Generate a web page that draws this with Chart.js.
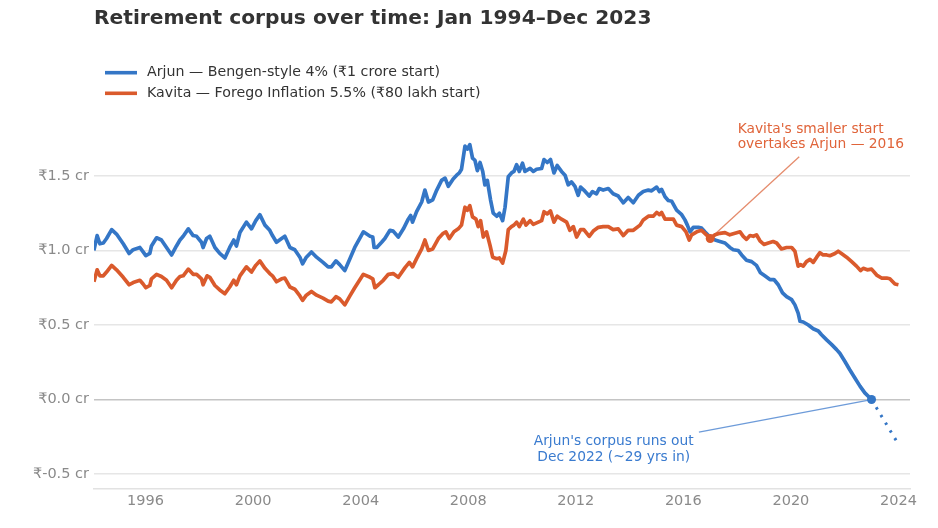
<!DOCTYPE html>
<html>
<head>
<meta charset="utf-8">
<script src="https://cdn.jsdelivr.net/npm/chart.js@4.4.1/dist/chart.umd.min.js"></script>
<style>
  body { margin: 0; background: #fff; }
  #wrap { width: 938px; height: 528px; }
</style>
</head>
<body>
<div id="wrap"><canvas id="corpusChart"></canvas></div>
<script>
// years as year + month/12 (Jan = 1/12), values in crore
const arjunT = [
  1994.08, 1994.20, 1994.30, 1994.43, 1994.55, 1994.74, 1994.92, 1995.17, 1995.39, 1995.54,
  1995.79, 1995.91, 1996.01, 1996.16, 1996.22, 1996.41, 1996.59, 1996.78, 1996.97, 1997.15,
  1997.28, 1997.40, 1997.59, 1997.77, 1997.90, 1998.08, 1998.14, 1998.27, 1998.39, 1998.58,
  1998.76, 1998.95, 1999.13, 1999.28, 1999.38, 1999.51, 1999.75, 1999.94, 2000.10, 2000.25,
  2000.44, 2000.62, 2000.72, 2000.87, 2001.06, 2001.18, 2001.37, 2001.55, 2001.74, 2001.84,
  2001.98, 2002.17, 2002.36, 2002.60, 2002.79, 2002.91, 2003.08, 2003.22, 2003.41, 2003.60,
  2003.78, 2004.10, 2004.35, 2004.45, 2004.50, 2004.60, 2004.78, 2004.90, 2005.09, 2005.21,
  2005.40, 2005.59, 2005.77, 2005.86, 2005.93, 2006.08, 2006.27, 2006.39, 2006.52, 2006.68,
  2006.83, 2007.01, 2007.14, 2007.26, 2007.44, 2007.57, 2007.67, 2007.75, 2007.88, 2007.97,
  2008.06, 2008.16, 2008.25, 2008.34, 2008.44, 2008.54, 2008.62, 2008.71, 2008.83, 2008.93,
  2009.06, 2009.16, 2009.28, 2009.37, 2009.49, 2009.61, 2009.70, 2009.80, 2009.90, 2010.02,
  2010.11, 2010.30, 2010.42, 2010.54, 2010.73, 2010.82, 2010.94, 2011.06, 2011.19, 2011.31,
  2011.47, 2011.60, 2011.72, 2011.84, 2011.97, 2012.09, 2012.18, 2012.30, 2012.50, 2012.62,
  2012.77, 2012.87, 2013.02, 2013.21, 2013.39, 2013.58, 2013.77, 2013.95, 2014.14, 2014.33,
  2014.51, 2014.70, 2014.82, 2015.01, 2015.11, 2015.19, 2015.32, 2015.44, 2015.57, 2015.75,
  2015.94, 2016.06, 2016.15, 2016.25, 2016.37, 2016.56, 2016.68, 2016.80, 2016.99, 2017.18,
  2017.36, 2017.55, 2017.73, 2017.86, 2018.04, 2018.17, 2018.35, 2018.54, 2018.72, 2018.87,
  2019.03, 2019.22, 2019.37, 2019.53, 2019.69, 2019.84, 2020.03, 2020.15, 2020.27, 2020.34,
  2020.46, 2020.65, 2020.83, 2021.02, 2021.14, 2021.33, 2021.51, 2021.70, 2021.82, 2022.01,
  2022.19, 2022.38, 2022.57, 2022.75, 2023.00
];
const arjunCr = [
  1.00, 1.10, 1.045, 1.05, 1.08, 1.14, 1.11, 1.045, 0.98, 1.005,
  1.02, 0.99, 0.965, 0.98, 1.03, 1.085, 1.07, 1.02, 0.97, 1.03,
  1.07, 1.095, 1.145, 1.10, 1.095, 1.055, 1.02, 1.08, 1.095, 1.02,
  0.98, 0.95, 1.02, 1.07, 1.03, 1.12, 1.19, 1.145, 1.20, 1.24,
  1.17, 1.135, 1.10, 1.055, 1.08, 1.095, 1.02, 1.005, 0.955, 0.91,
  0.955, 0.99, 0.955, 0.92, 0.89, 0.89, 0.93, 0.905, 0.865, 0.945,
  1.02, 1.125, 1.095, 1.09, 1.02, 1.02, 1.055, 1.08, 1.135, 1.13,
  1.09, 1.145, 1.21, 1.235, 1.19, 1.26, 1.325, 1.405, 1.325, 1.34,
  1.405, 1.47, 1.485, 1.43, 1.48, 1.505, 1.52, 1.545, 1.70, 1.68,
  1.71, 1.62, 1.605, 1.535, 1.59, 1.53, 1.44, 1.47, 1.34, 1.25,
  1.23, 1.25, 1.20, 1.29, 1.495, 1.52, 1.53, 1.575, 1.53, 1.585,
  1.53, 1.55, 1.53, 1.545, 1.55, 1.61, 1.59, 1.61, 1.52, 1.57,
  1.53, 1.505, 1.44, 1.46, 1.43, 1.37, 1.425, 1.405, 1.365, 1.395,
  1.38, 1.415, 1.405, 1.415, 1.38, 1.365, 1.32, 1.355, 1.32, 1.37,
  1.395, 1.405, 1.40, 1.425, 1.395, 1.41, 1.36, 1.335, 1.33, 1.27,
  1.24, 1.205, 1.17, 1.125, 1.155, 1.155, 1.15, 1.125, 1.09, 1.07,
  1.06, 1.05, 1.02, 1.005, 1.00, 0.97, 0.935, 0.925, 0.90, 0.85,
  0.83, 0.805, 0.805, 0.77, 0.715, 0.69, 0.67, 0.635, 0.58, 0.525,
  0.52, 0.50, 0.475, 0.46, 0.435, 0.40, 0.37, 0.335, 0.31, 0.255,
  0.20, 0.145, 0.09, 0.045, 0.00
];

const kavitaT = [
  1994.08, 1994.20, 1994.30, 1994.43, 1994.55, 1994.74, 1994.92, 1995.17, 1995.39, 1995.54,
  1995.79, 1995.91, 1996.01, 1996.16, 1996.22, 1996.41, 1996.59, 1996.78, 1996.97, 1997.15,
  1997.28, 1997.40, 1997.59, 1997.77, 1997.90, 1998.08, 1998.14, 1998.29, 1998.39, 1998.58,
  1998.76, 1998.95, 1999.13, 1999.28, 1999.38, 1999.51, 1999.75, 1999.94, 2000.10, 2000.25,
  2000.44, 2000.62, 2000.72, 2000.87, 2001.06, 2001.18, 2001.37, 2001.55, 2001.74, 2001.84,
  2001.98, 2002.17, 2002.36, 2002.60, 2002.79, 2002.91, 2003.08, 2003.22, 2003.41, 2003.60,
  2003.78, 2004.10, 2004.35, 2004.45, 2004.53, 2004.66, 2004.84, 2005.03, 2005.21, 2005.40,
  2005.65, 2005.81, 2005.93, 2006.08, 2006.27, 2006.39, 2006.52, 2006.68, 2006.89, 2007.07,
  2007.17, 2007.30, 2007.47, 2007.63, 2007.75, 2007.88, 2007.97, 2008.06, 2008.16, 2008.29,
  2008.37, 2008.46, 2008.56, 2008.68, 2008.81, 2008.91, 2009.06, 2009.16, 2009.28, 2009.40,
  2009.49, 2009.61, 2009.70, 2009.80, 2009.90, 2010.05, 2010.15, 2010.30, 2010.42, 2010.73,
  2010.82, 2010.94, 2011.06, 2011.19, 2011.31, 2011.47, 2011.66, 2011.78, 2011.91, 2012.03,
  2012.18, 2012.30, 2012.50, 2012.65, 2012.84, 2013.02, 2013.21, 2013.39, 2013.58, 2013.77,
  2013.95, 2014.14, 2014.39, 2014.51, 2014.70, 2014.88, 2015.01, 2015.11, 2015.19, 2015.32,
  2015.50, 2015.63, 2015.75, 2015.94, 2016.10, 2016.22, 2016.31, 2016.50, 2016.68, 2016.80,
  2017.00, 2017.18, 2017.36, 2017.55, 2017.73, 2017.92, 2018.11, 2018.23, 2018.35, 2018.48,
  2018.60, 2018.72, 2018.85, 2019.00, 2019.16, 2019.34, 2019.47, 2019.65, 2019.84, 2020.03,
  2020.15, 2020.27, 2020.36, 2020.46, 2020.58, 2020.71, 2020.83, 2020.96, 2021.08, 2021.20,
  2021.33, 2021.45, 2021.64, 2021.76, 2021.88, 2022.07, 2022.26, 2022.44, 2022.59, 2022.69,
  2022.84, 2023.00, 2023.19, 2023.37, 2023.56, 2023.68, 2023.87, 2024.00
];
const kavitaCr = [
  0.79, 0.87, 0.83, 0.83, 0.855, 0.90, 0.87, 0.82, 0.77, 0.785,
  0.80, 0.775, 0.75, 0.765, 0.81, 0.84, 0.825, 0.80, 0.75, 0.80,
  0.825, 0.83, 0.875, 0.84, 0.84, 0.81, 0.77, 0.83, 0.82, 0.765,
  0.735, 0.71, 0.755, 0.80, 0.77, 0.83, 0.89, 0.855, 0.90, 0.93,
  0.88, 0.845, 0.83, 0.79, 0.81, 0.815, 0.755, 0.74, 0.695, 0.665,
  0.70, 0.725, 0.70, 0.68, 0.66, 0.655, 0.69, 0.675, 0.635, 0.695,
  0.75, 0.84, 0.82, 0.81, 0.75, 0.77, 0.80, 0.84, 0.845, 0.82,
  0.885, 0.92, 0.89, 0.945, 1.01, 1.07, 1.00, 1.01, 1.08, 1.115,
  1.125, 1.08, 1.125, 1.145, 1.17, 1.29, 1.27, 1.30, 1.225, 1.21,
  1.16, 1.20, 1.09, 1.125, 1.035, 0.955, 0.945, 0.95, 0.915, 1.00,
  1.14, 1.16, 1.17, 1.19, 1.16, 1.21, 1.17, 1.20, 1.175, 1.20,
  1.26, 1.245, 1.265, 1.19, 1.23, 1.21, 1.19, 1.135, 1.16, 1.09,
  1.14, 1.14, 1.095, 1.13, 1.155, 1.16, 1.16, 1.14, 1.145, 1.10,
  1.135, 1.135, 1.17, 1.205, 1.23, 1.23, 1.255, 1.24, 1.255, 1.21,
  1.21, 1.21, 1.17, 1.16, 1.125, 1.07, 1.105, 1.125, 1.135, 1.115,
  1.08, 1.105, 1.115, 1.12, 1.105, 1.115, 1.125, 1.095, 1.075, 1.10,
  1.095, 1.105, 1.065, 1.04, 1.05, 1.06, 1.05, 1.01, 1.02, 1.02,
  0.995, 0.895, 0.905, 0.895, 0.925, 0.94, 0.92, 0.955, 0.985, 0.97,
  0.97, 0.965, 0.98, 0.995, 0.98, 0.955, 0.925, 0.895, 0.865, 0.88,
  0.87, 0.875, 0.835, 0.815, 0.815, 0.81, 0.775, 0.77
];

// dotted continuation after the money runs out
const projT = [2023.00, 2024.00];
const projCr = [0.00, -0.30];

// highlighted events
const crossT = [2017.00];
const crossCr = [1.08];
const depletedT = [2023.00];
const depletedCr = [0.00];

const xTicks = [1996, 2000, 2004, 2008, 2012, 2016, 2020, 2024];
const yTicks = [-0.5, 0, 0.5, 1.0, 1.5];

const BLUE = '#3476c6';
const ORANGE = '#da5a2c';

const pts = (ts, vs) => ts.map((t, i) => ({ x: t, y: vs[i] }));

// legend stacked in two rows, line swatch + label
const stackedLegend = {
  id: 'stackedLegend',
  afterDraw(chart, args, opts) {
    const { ctx } = chart;
    ctx.save();
    ctx.font = opts.font;
    ctx.textBaseline = 'middle';
    ctx.textAlign = 'left';
    opts.datasets.forEach((idx, i) => {
      const ds = chart.data.datasets[idx];
      const y = opts.top + i * opts.rowGap;
      ctx.strokeStyle = ds.borderColor;
      ctx.lineWidth = 3.6;
      ctx.beginPath();
      ctx.moveTo(opts.left, y);
      ctx.lineTo(opts.left + opts.swatch, y);
      ctx.stroke();
      ctx.fillStyle = opts.color;
      ctx.fillText(ds.label, opts.left + opts.swatch + opts.gap, y);
    });
    ctx.restore();
  }
};

// leader line + text notes placed in data coordinates
const callouts = {
  id: 'callouts',
  beforeDatasetsDraw(chart, args, opts) {
    const { ctx, scales: { x, y } } = chart;
    ctx.save();
    opts.items.forEach(c => {
      ctx.strokeStyle = c.lineColor;
      ctx.lineWidth = 1.3;
      ctx.beginPath();
      ctx.moveTo(x.getPixelForValue(c.from[0]), y.getPixelForValue(c.from[1]));
      ctx.lineTo(x.getPixelForValue(c.to[0]), y.getPixelForValue(c.to[1]));
      ctx.stroke();
    });
    ctx.restore();
  },
  afterDatasetsDraw(chart, args, opts) {
    const { ctx, scales: { x, y } } = chart;
    ctx.save();
    ctx.font = opts.font;
    ctx.textBaseline = 'middle';
    opts.items.forEach(c => {
      ctx.fillStyle = c.color;
      ctx.textAlign = c.align;
      const px = x.getPixelForValue(c.at[0]);
      const py = y.getPixelForValue(c.at[1]);
      c.text.forEach((line, i) => ctx.fillText(line, px, py + i * opts.lineGap));
    });
    ctx.restore();
  }
};

Chart.defaults.font.family = '"DejaVu Sans", sans-serif';

new Chart(document.getElementById('corpusChart'), {
  type: 'line',
  data: {
    datasets: [
      {
        label: 'Arjun — Bengen-style 4% (₹1 crore start)',
        data: pts(arjunT, arjunCr),
        borderColor: BLUE,
        borderWidth: 3.7,
        pointRadius: 0,
        order: 3
      },
      {
        label: 'Kavita — Forego Inflation 5.5% (₹80 lakh start)',
        data: pts(kavitaT, kavitaCr),
        borderColor: ORANGE,
        borderWidth: 3.7,
        pointRadius: 0,
        order: 2
      },
      {
        label: 'projection',
        data: pts(projT, projCr),
        borderColor: BLUE,
        borderWidth: 3,
        borderDash: [2.5, 6.5],
        pointRadius: 0,
        order: 3
      },
      {
        label: 'crossover',
        data: pts(crossT, crossCr),
        showLine: false,
        pointRadius: 4.5,
        pointBackgroundColor: ORANGE,
        pointBorderWidth: 0,
        order: 1
      },
      {
        label: 'depleted',
        data: pts(depletedT, depletedCr),
        showLine: false,
        pointRadius: 4.5,
        pointBackgroundColor: BLUE,
        pointBorderWidth: 0,
        order: 1
      }
    ]
  },
  options: {
    responsive: true,
    maintainAspectRatio: false,
    animation: false,
    borderJoinStyle: 'round',
    layout: { padding: { left: 0, right: 28, top: 0, bottom: 0 } },
    scales: {
      x: {
        type: 'linear',
        min: 1994.083,
        max: 2024.43,
        afterBuildTicks: (scale) => { scale.ticks = xTicks.map(v => ({ value: v })); },
        afterFit: (scale) => { scale.height = 39; },
        ticks: {
          color: '#8a8a8a',
          font: { size: 14.5 },
          padding: 4,
          maxRotation: 0,
          callback: (v) => String(v)
        },
        grid: { display: false, drawTicks: false },
        border: { display: true, color: '#e2e2e2', width: 1.5 }
      },
      y: {
        min: -0.6,
        max: 1.85,
        afterBuildTicks: (scale) => { scale.ticks = yTicks.map(v => ({ value: v })); },
        afterFit: (scale) => { scale.width = 94; },
        ticks: {
          color: '#8a8a8a',
          font: { size: 14.5 },
          padding: 5,
          callback: (v) => '₹' + Number(v).toFixed(1) + ' cr'
        },
        grid: {
          drawTicks: false,
          color: (c) => c.tick && c.tick.value === 0 ? '#c4c4c4' : '#e6e6e6',
          lineWidth: (c) => c.tick && c.tick.value === 0 ? 1.5 : 1.6
        },
        border: { display: false }
      }
    },
    plugins: {
      legend: { display: false },
      tooltip: { enabled: false },
      title: {
        display: true,
        text: 'Retirement corpus over time: Jan 1994–Dec 2023',
        align: 'start',
        fullSize: false,
        color: '#333333',
        font: { size: 20.2, weight: 'bold', lineHeight: 1.2 },
        padding: { top: 6.7, bottom: 92.8 }
      },
      stackedLegend: {
        datasets: [0, 1],
        left: 105,
        top: 72.7,
        rowGap: 20.6,
        swatch: 32,
        gap: 10,
        color: '#333333',
        font: '14.2px "DejaVu Sans", sans-serif'
      },
      callouts: {
        font: '13.8px "DejaVu Sans", sans-serif',
        lineGap: 15.3,
        items: [
          {
            text: ["Kavita's smaller start", 'overtakes Arjun — 2016'],
            at: [2018.02, 1.815],
            align: 'left',
            color: '#e0643a',
            lineColor: '#e58c6d',
            from: [2017.0, 1.08],
            to: [2020.31, 1.629]
          },
          {
            text: ["Arjun's corpus runs out", 'Dec 2022 (~29 yrs in)'],
            at: [2013.41, -0.283],
            align: 'center',
            color: '#3a7bcf',
            lineColor: '#6d9bd9',
            from: [2023.0, 0],
            to: [2016.58, -0.219]
          }
        ]
      }
    }
  },
  plugins: [stackedLegend, callouts]
});
</script>
</body>
</html>
